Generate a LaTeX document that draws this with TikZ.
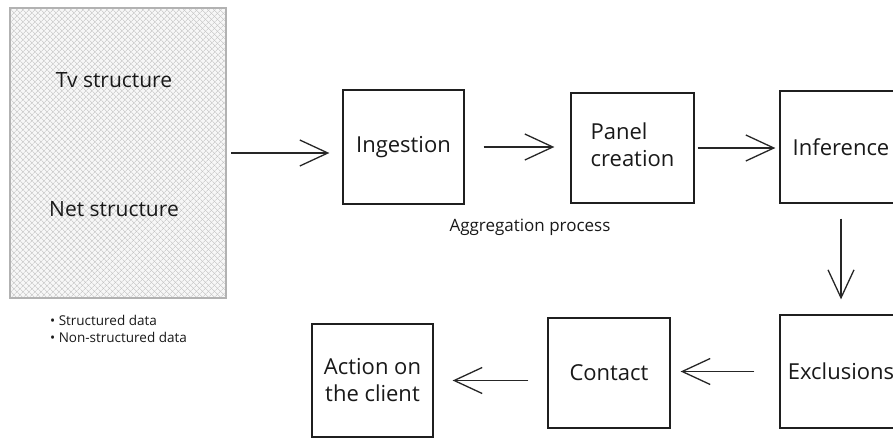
\documentclass[tikz,border=0pt]{standalone}
\usepackage{fontspec}
\setmainfont{Open Sans}
\usetikzlibrary{arrows.meta,patterns.meta,calc}

\begin{document}
\begin{tikzpicture}[x=1pt,y=-1pt,
  ink/.style={draw=black!88, line width=1.3pt},
  stage/.style={ink, rectangle, inner sep=0pt, align=center,
    font=\fontsize{22}{27}\selectfont, text=black!90},
  conn/.style={draw=black!85, line width=1.3pt,
    -{Straight Barb[length=28pt,width=26pt,line width=1.3pt]}},
  note/.style={inner sep=0pt, text=black!90},
]
% page frame
\clip (0,0) rectangle (893,439);
\fill[white] (0,0) rectangle (893,439);

% hatched source block
\node[draw=gray!60, line width=1.5pt, inner sep=0pt,
      minimum width=216pt, minimum height=290pt,
      preaction={fill=gray!6},
      preaction={pattern={Lines[angle=45,distance=4pt,line width=0.6pt]}, pattern color=gray!50},
      pattern={Lines[angle=-45,distance=4pt,line width=0.6pt]}, pattern color=gray!50]
  (data) at (118,153) {};
\node[note, font=\fontsize{21}{26}\selectfont] (tv) at (114,80) {Tv structure};
\node[note, font=\fontsize{21}{26}\selectfont] (net) at (114,209) {Net structure};

% legend
\node[note, anchor=west, font=\fontsize{13.5}{16}\selectfont] (leg1) at (50,320) {\textbullet\ Structured data};
\node[note, anchor=west, font=\fontsize{13.5}{16}\selectfont] (leg2) at (50,337) {\textbullet\ Non-structured data};

% pipeline stages
\node[stage, minimum width=121pt, minimum height=114pt] (ingest) at (403.5,147) {\raisebox{-4pt}{Ingestion}};
\node[stage, minimum width=123pt, minimum height=110pt] (panel) at (632.5,148) {\begin{tabular}{@{}l@{}}Panel\\creation\end{tabular}};
\node[stage, minimum width=122pt, minimum height=112pt] (infer) at (841,147) {Inference};
\node[stage, minimum width=122pt, minimum height=113pt] (excl) at (841,371.5) {Exclusions};
\node[stage, minimum width=122pt, minimum height=110pt] (contact) at (609,373) {\raisebox{-4pt}{Contact}};
\node[stage, minimum width=121pt, minimum height=113pt] (action) at (372.5,380.5) {Action on\\the client};

\node[note, font=\fontsize{17}{20}\selectfont] (agg) at (530,227) {Aggregation process};

% connectors
\draw[conn, shorten <=5pt, shorten >=13pt] (data.east) -- (data.east -| ingest.west);
\draw[conn, shorten <=19pt, shorten >=16pt] (ingest.east) -- (ingest.east -| panel.west);
\draw[conn, shorten <=3pt, shorten >=4pt] (panel.east) -- (panel.east -| infer.west);
\draw[conn, shorten <=15pt, shorten >=15pt] (infer.south) -- (infer.south |- excl.north);
\draw[conn, shorten <=25pt, shorten >=10pt] (excl.west) -- (excl.west -| contact.east);
\draw[conn, shorten <=19pt, shorten >=19pt] (action.east -| contact.west) -- (action.east);
\end{tikzpicture}
\end{document}
